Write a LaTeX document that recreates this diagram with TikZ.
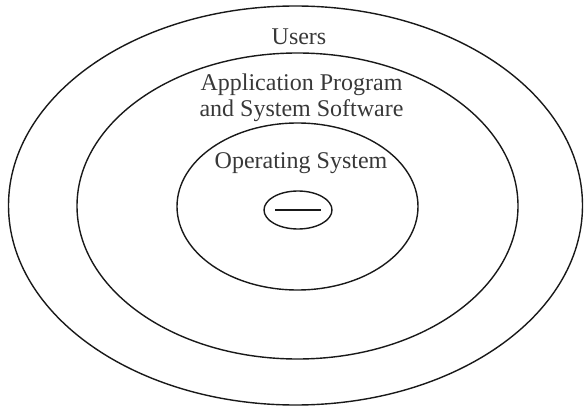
\documentclass[tikz,border=0pt]{standalone}
\usepackage{fontspec}
\setmainfont{Liberation Serif}
\usetikzlibrary{shapes.geometric}
\begin{document}
\begin{tikzpicture}[x=1pt,y=-1pt,
  ring/.style={draw=black!90, line width=1.4pt, ellipse, inner sep=0pt, minimum width=#1},
  lbl/.style={font=\fontsize{24}{28}\selectfont, text=black!78, anchor=base, inner sep=0pt}]
\useasboundingbox (0,0) rectangle (584,409);
\node[ring=574pt, minimum height=399pt] (users) at (295.5,205.5) {};
\node[ring=441pt, minimum height=306pt] (apps) at (297.5,206) {};
\node[ring=241pt, minimum height=167pt] (os) at (297.5,206.5) {};
\node[ring=68pt, minimum height=38pt] (kernel) at (298,210) {};
\draw[line width=1.4pt, black!90] ([xshift=-23pt]kernel.center) -- ([xshift=23pt]kernel.center);
\node[lbl] (tusers) at (299,45) {Users};
\node[lbl] (tapp1) at (301.5,91) {Application Program};
\node[lbl] (tapp2) at (301.5,117) {and System Software};
\node[lbl] (tos) at (301,169) {Operating System};
\end{tikzpicture}
\end{document}
